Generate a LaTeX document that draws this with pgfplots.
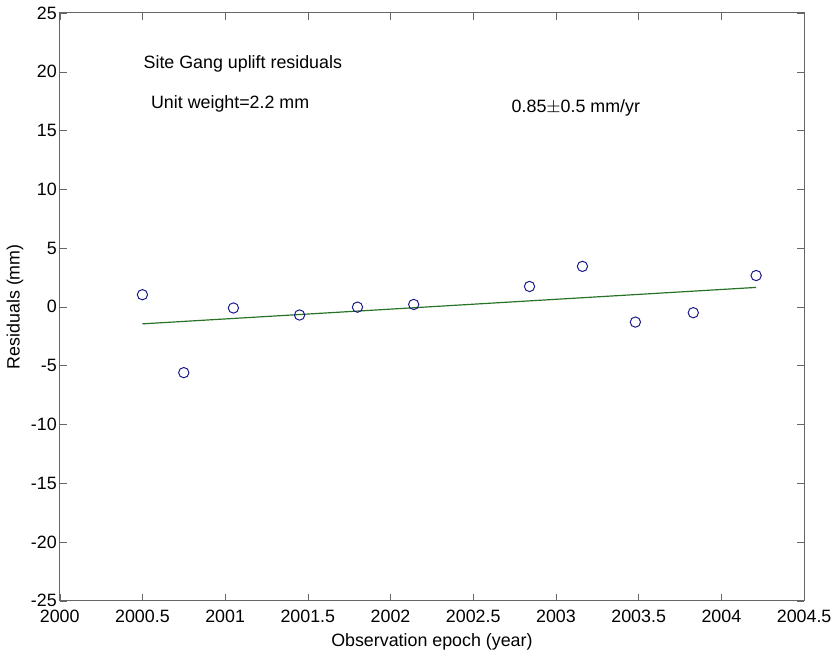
\documentclass[border=0pt]{standalone}
\usepackage{fontspec}
\setmainfont{Liberation Sans}
\usepackage{pgfplots}
\pgfplotsset{compat=1.18}
\definecolor{mblue}{rgb}{0.1,0.1,0.55}
\definecolor{mgreen}{rgb}{0.15,0.45,0.15}
\begin{document}
\begin{tikzpicture}
\begin{axis}[
  scale only axis,
  width=375.5pt, height=296.5pt,
  xmin=2000, xmax=2004.5, ymin=-25, ymax=25,
  xtick={2000,2000.5,...,2004.5},
  ytick={-25,-20,...,25},
  xticklabels={2000,2000.5,2001,2001.5,2002,2002.5,2003,2003.5,2004,2004.5},
  yticklabel style={/pgf/number format/fixed, xshift=2pt},
  /pgf/number format/assume math mode=true,
  tick align=inside,
  major tick length=3.5pt,
  axis line style={gray!80!black, line width=0.5pt},
  tick style={gray!80!black},
  ticklabel style={font=\fontsize{9}{10}\selectfont},
  xticklabel style={yshift=-1pt},
  label style={font=\fontsize{9}{10}\selectfont},
  xlabel={Observation epoch (year)},
  ylabel={Residuals (mm)},
  xlabel style={yshift=1pt},
  ylabel style={yshift=-3pt},
  clip=false,
]
\addplot[only marks, mark=o, mark size=2.6pt, mblue, mark options={line width=0.5pt}] coordinates {
(2000.50, 1.03)
(2000.75, -5.6)
(2001.05, -0.1)
(2001.45, -0.7)
(2001.80, -0.03)
(2002.14, 0.2)
(2002.84, 1.73)
(2003.16, 3.44)
(2003.48, -1.3)
(2003.83, -0.5)
(2004.21, 2.66)
};
\addplot[mgreen, line width=0.6pt] coordinates {(2000.50,-1.45) (2004.21,1.65)};
\node[anchor=west, font=\fontsize{9}{10}\selectfont] at (axis cs:2000.465,20.7) {Site Gang uplift residuals};
\node[anchor=west, font=\fontsize{9}{10}\selectfont] at (axis cs:2000.51,17.3) {Unit weight=2.2 mm};
\node[anchor=west, font=\fontsize{9}{10}\selectfont] at (axis cs:2002.69,16.9) {0.85$\pm$0.5 mm/yr};
\end{axis}
\end{tikzpicture}
\end{document}
